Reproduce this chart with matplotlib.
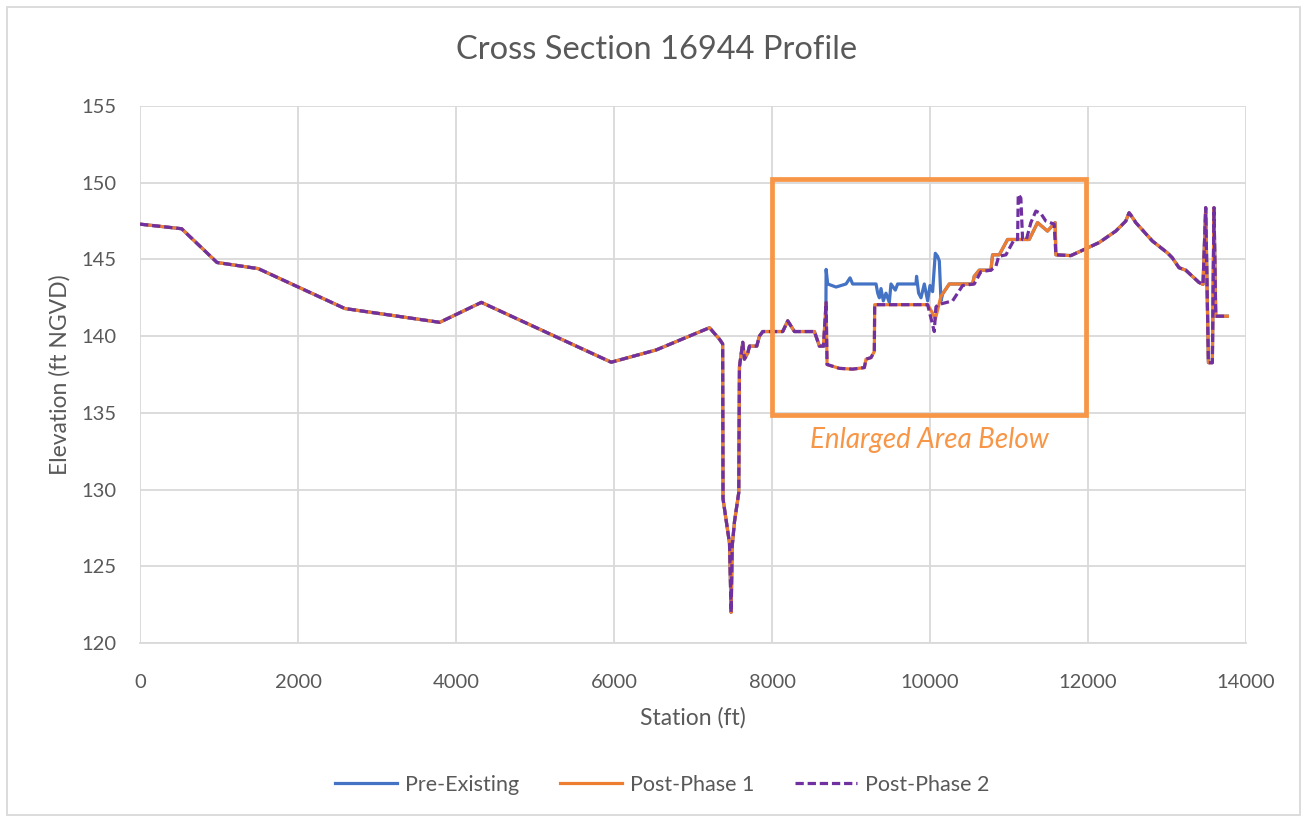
import matplotlib
matplotlib.use("Agg")
import matplotlib.pyplot as plt
from matplotlib.patches import Rectangle

plt.rcParams['font.family'] = ['Lato', 'DejaVu Sans']

# ---- data ----
left_st = [0, 527, 975, 1497, 2593, 3794, 4321, 5965, 6534, 7209, 7335, 7375, 7380,
           7462, 7483, 7496, 7525, 7579, 7588, 7630, 7651, 7693, 7715, 7807, 7841,
           7883, 8136, 8199, 8284, 8537, 8600, 8650]
left_el = [147.3, 147.0, 144.8, 144.4, 141.8, 140.9, 142.2, 138.3, 139.1, 140.55, 139.8, 139.5, 129.4,
           126.5, 122.0, 126.3, 127.9, 129.8, 138.0, 139.6, 138.5, 138.9, 139.35, 139.35, 140.0,
           140.3, 140.3, 141.0, 140.3, 140.3, 139.35, 139.35]

pre_mid_st = [8680, 8685, 8705, 8811, 8937, 8988, 9021, 9317, 9338, 9359, 9380, 9409, 9443,
              9485, 9506, 9561, 9590, 9823, 9830, 9856, 9886, 9928, 9970, 10000, 10033,
              10067, 10096, 10118, 10139, 10160, 10244, 10539, 10560, 10623, 10771, 10792,
              10877, 10982, 11256, 11361, 11487, 11584, 11593]
pre_mid_el = [139.35, 144.35, 143.4, 143.2, 143.4, 143.8, 143.4, 143.4, 142.8, 142.5, 143.1, 142.3, 142.8,
              142.2, 143.4, 143.0, 143.4, 143.4, 143.9, 142.8, 142.5, 143.4, 142.3, 143.3, 142.9,
              145.4, 145.2, 144.9, 142.3, 142.75, 143.4, 143.4, 143.9, 144.3, 144.3, 145.3,
              145.3, 146.3, 146.3, 147.4, 146.85, 147.4, 145.3]

p1_mid_st = [8685, 8697, 8853, 9021, 9169, 9190, 9253, 9295, 9300, 9940, 9970, 10033, 10067,
             10139, 10244, 10539, 10560, 10623, 10771, 10792, 10877, 10982, 11256, 11361,
             11487, 11584, 11593]
p1_mid_el = [142.2, 138.15, 137.9, 137.85, 137.95, 138.5, 138.6, 139.0, 142.05, 142.05, 142.05, 141.5, 141.1,
             142.6, 143.4, 143.4, 143.9, 144.3, 144.3, 145.3, 145.3, 146.3, 146.3, 147.4,
             146.85, 147.4, 145.3]

p2_mid_st = [8685, 8697, 8853, 9021, 9169, 9190, 9253, 9295, 9300, 9940, 9970, 10054, 10075,
             10100, 10286, 10413, 10560, 10644, 10771, 10834, 10870, 10961, 11066, 11109,
             11117, 11150, 11172, 11220, 11277, 11340, 11403, 11466, 11572, 11593]
p2_mid_el = [142.2, 138.15, 137.9, 137.85, 137.95, 138.5, 138.6, 139.0, 142.05, 142.05, 142.05, 140.3, 141.9,
             142.05, 142.3, 143.3, 143.4, 144.2, 144.3, 144.56, 145.2, 145.3, 146.3, 146.3,
             149.24, 149.0, 146.3, 146.3, 147.4, 148.15, 148.0, 147.5, 147.3, 145.3]

right_st = [11783, 11973, 12141, 12225, 12352, 12478, 12520, 12541, 12605, 12815, 13005,
            13068, 13152, 13237, 13342, 13405, 13456, 13490, 13524, 13574, 13595, 13617, 13764]
right_el = [145.25, 145.7, 146.1, 146.4, 146.85, 147.5, 148.04, 147.9, 147.4, 146.2, 145.43,
            145.1, 144.46, 144.3, 143.8, 143.5, 143.37, 148.37, 138.27, 138.27, 148.37, 141.3, 141.3]

series_names = ["Pre-Existing", "Post-Phase 1", "Post-Phase 2"]
x_ticks = [0, 2000, 4000, 6000, 8000, 10000, 12000, 14000]
y_ticks = [120, 125, 130, 135, 140, 145, 150, 155]

pre_st = left_st + pre_mid_st + right_st
pre_el = left_el + pre_mid_el + right_el
p1_st = left_st + p1_mid_st + right_st
p1_el = left_el + p1_mid_el + right_el
p2_st = left_st + p2_mid_st + right_st
p2_el = left_el + p2_mid_el + right_el

# ---- figure ----
fig = plt.figure(figsize=(13.07, 8.23), dpi=100)
ax = fig.add_axes([140/1307, 1-643/823, (1246-140)/1307, (643-106)/823])

grid_c = '#D9D9D9'
text_c = '#595959'

ax.plot(pre_st, pre_el, color='#4472C4', lw=2.3, label=series_names[0], zorder=3)
ax.plot(p1_st, p1_el, color='#ED7D31', lw=2.3, label=series_names[1], zorder=4)
ax.plot(p2_st, p2_el, color='#7030A0', lw=2.3, dashes=(2.6, 1.2), label=series_names[2], zorder=5)

ax.set_xlim(0, 14000)
ax.set_ylim(120, 155)
ax.set_xticks(x_ticks)
ax.set_yticks(y_ticks)
ax.grid(True, color=grid_c, lw=1.3)
ax.set_axisbelow(True)
for s in ['top', 'right', 'left']:
    ax.spines[s].set_visible(False)
ax.spines['bottom'].set_color(grid_c)
ax.spines['bottom'].set_linewidth(1.3)
ax.tick_params(axis='y', length=0, labelsize=14.5, labelcolor=text_c, pad=17)
ax.tick_params(axis='x', length=0, labelsize=14.5, labelcolor=text_c, pad=22)

ax.set_xlabel("Station (ft)", fontsize=16.5, color=text_c, labelpad=12)
ax.set_ylabel("Elevation (ft NGVD)", fontsize=16.5, color=text_c, labelpad=8)
fig.text(657/1307, 1-50/823, "Cross Section 16944 Profile", fontsize=23.5, color=text_c,
         ha='center', va='center')

# highlight box
ax.add_patch(Rectangle((8000, 134.85), 3980, 15.4, fill=False, edgecolor='#F79646',
                       lw=3.4, zorder=6, clip_on=False))
ax.text(9990, 133.2, "Enlarged Area Below", color='#F79646', fontsize=20,
        style='italic', ha='center', va='center', zorder=6)

leg = fig.legend(loc='center', bbox_to_anchor=(662/1307, 1-785/823), ncol=3, frameon=False,
                 fontsize=15.5, handlelength=2.9, columnspacing=1.9, handletextpad=0.35)
for t in leg.get_texts():
    t.set_color(text_c)

fig.patches.append(Rectangle((7/1307, 1-815/823), (1300-7)/1307, (815-7)/823,
                             transform=fig.transFigure, fill=False, edgecolor=grid_c, lw=1.3))

fig.savefig("out.png", dpi=100)
